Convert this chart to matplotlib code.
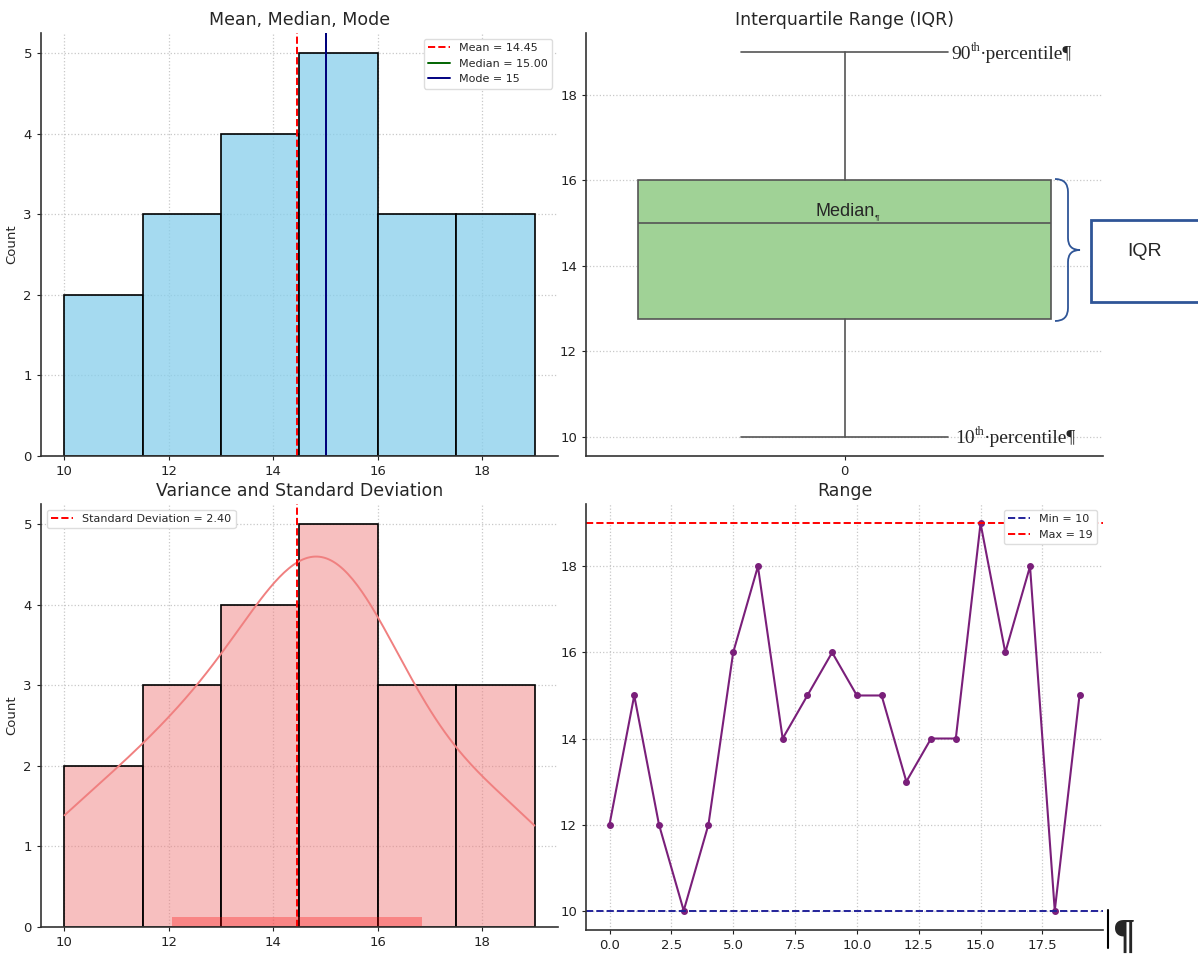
import numpy as np
import matplotlib
matplotlib.use("Agg")
import matplotlib.pyplot as plt
import seaborn as sns
from matplotlib.path import Path
from matplotlib.patches import PathPatch, Rectangle
from matplotlib.lines import Line2D

# sample values
values = [12, 15, 12, 10, 12, 16, 18, 14, 15, 16, 15, 15, 13, 14, 14, 19, 16, 18, 10, 15]
n_bins = 6
hist_ticks = [10, 12, 14, 16, 18]
box_ticks = [10, 12, 14, 16, 18]

data = np.array(values)
mean = data.mean()
median = np.median(data)
mode = np.bincount(data).argmax()
std = data.std()

sns.set_style("ticks")
plt.rcParams['font.family'] = ['DejaVu Sans']

W, H = 1198, 960
fig = plt.figure(figsize=(W / 100, H / 100), dpi=100)

def px(l, t, r, b):
    return [l / W, 1 - b / H, (r - l) / W, (b - t) / H]

ax1 = fig.add_axes(px(41, 33, 558, 456))
ax2 = fig.add_axes(px(586, 33, 1103, 456))
ax3 = fig.add_axes(px(41, 504, 558, 927))
ax4 = fig.add_axes(px(586, 504, 1103, 930))

grid_kw = dict(linestyle=':', color='#c8c8c8', linewidth=0.9)
for ax in (ax1, ax2, ax3, ax4):
    ax.grid(True, **grid_kw)
    ax.set_axisbelow(True)
    for s in ('top', 'right'):
        ax.spines[s].set_visible(False)
    for s in ('left', 'bottom'):
        ax.spines[s].set_color('#333333')
        ax.spines[s].set_linewidth(1.2)
    ax.tick_params(labelsize=9.5, colors='#222222', length=3)

# --- Mean, Median, Mode ---
sns.histplot(data, bins=n_bins, color='#87ceeb', edgecolor='black', linewidth=1.2,
             alpha=0.75, ax=ax1)
ax1.axvline(mean, color='red', linestyle='--', linewidth=1.4, label=f'Mean = {mean:.2f}')
ax1.axvline(median, color='darkgreen', linestyle='-', linewidth=1.4, label=f'Median = {median:.2f}')
ax1.axvline(mode, color='navy', linestyle='-', linewidth=1.4, label=f'Mode = {mode}')
ax1.set_title('Mean, Median, Mode', fontsize=12.5)
ax1.set_ylabel('Count', fontsize=9.5)
ax1.set_xticks(hist_ticks)
ax1.legend(loc='upper right', fontsize=8, framealpha=1, edgecolor='#dddddd')

# --- IQR ---
bp = ax2.boxplot([data], positions=[0], widths=0.8, patch_artist=True,
                 medianprops=dict(color='#555555', linewidth=1.2),
                 whiskerprops=dict(color='#555555', linewidth=1.2),
                 capprops=dict(color='#555555', linewidth=1.2),
                 boxprops=dict(facecolor='#a0d296', edgecolor='#555555', linewidth=1.2))
ax2.set_xlim(-0.5, 0.5)
ax2.set_xticks([0])
ax2.set_xticklabels(['0'])
ax2.set_yticks(box_ticks)
ax2.set_ylim(9.55, 19.45)
ax2.grid(False, axis='x')
ax2.set_title('Interquartile Range (IQR)', fontsize=12.5)

# --- Variance and Standard Deviation ---
sns.histplot(data, bins=n_bins, kde=True, color='#f08080', edgecolor='black', linewidth=1.2,
             alpha=0.5, ax=ax3, line_kws=dict(linewidth=1.4))
ax3.axvline(mean, color='red', linestyle='--', linewidth=1.4, label=f'Standard Deviation = {std:.2f}')
ax3.fill_between([mean - std, mean + std], 0, 0.12, color='red', alpha=0.3, linewidth=0)
ax3.set_title('Variance and Standard Deviation', fontsize=12.5)
ax3.set_ylabel('Count', fontsize=9.5)
ax3.set_xticks(hist_ticks)
ax3.legend(loc='upper left', fontsize=8, framealpha=1, edgecolor='#dddddd')

# --- Range ---
ax4.plot(range(len(data)), data, color='#7a1f7a', marker='o', markersize=4, linewidth=1.5)
ax4.axhline(data.min(), color='#23239a', linestyle='--', linewidth=1.4, label=f'Min = {data.min()}')
ax4.axhline(data.max(), color='red', linestyle='--', linewidth=1.4, label=f'Max = {data.max()}')
ax4.set_title('Range', fontsize=12.5)
ax4.set_xticks(np.arange(0, 20, 2.5))
ax4.set_yticks(box_ticks)
ax4.legend(loc='upper right', fontsize=8, framealpha=1, edgecolor='#dddddd')

# --- word-processor overlays ---
serif = ['Liberation Serif', 'DejaVu Serif']

def pct_label(x, y, num):
    t = fig.text(x / W, 1 - y / H, num, family=serif, fontsize=14, va='bottom')
    t2 = ax2.annotate('th', xy=(1, 0.55), xycoords=t, fontsize=9, family=serif,
                      va='bottom', annotation_clip=False)
    ax2.annotate('\u00b7percentile\u00b6', xy=(1, 0), xycoords=(t2, t), fontsize=14,
                 family=serif, va='bottom', annotation_clip=False)

pct_label(951, 63, '90')
pct_label(955, 447, '10')

tm = fig.text(845 / W, 1 - 211 / H, 'Median', family=['Liberation Sans'], fontsize=13,
              ha='center', va='center')
ax2.annotate('\u00b6', xy=(1, 0.1), xycoords=tm, fontsize=6, family=['Liberation Sans'],
             va='center', annotation_clip=False)

fig.add_artist(Rectangle((1091 / W, 1 - 302 / H), 120 / W, 82 / H, transform=fig.transFigure,
                         facecolor='white', edgecolor='#2f5597', linewidth=2, clip_on=False))
ti = fig.text(1145 / W, 1 - 252 / H, 'IQR', family=['Liberation Sans'], fontsize=14,
              ha='center', va='center')
ax2.annotate('\u00b6', xy=(1, 0.1), xycoords=ti, fontsize=6, family=['Liberation Sans'],
             va='center', annotation_clip=False)

# curly brace beside the box
verts = [(1055, 179), (1068, 179), (1068, 192), (1068, 238), (1068, 250), (1080, 250),
         (1068, 250), (1068, 262), (1068, 308), (1068, 321), (1055, 321)]
codes = [Path.MOVETO, Path.CURVE3, Path.CURVE3, Path.LINETO, Path.CURVE3, Path.CURVE3,
         Path.CURVE3, Path.CURVE3, Path.LINETO, Path.CURVE3, Path.CURVE3]
verts = [(x / W, 1 - y / H) for x, y in verts]
fig.add_artist(PathPatch(Path(verts, codes), transform=fig.transFigure, facecolor='none',
                         edgecolor='#2f5597', linewidth=1.3, clip_on=False))

# cursor mark and pilcrow at the bottom right
fig.add_artist(Line2D([1108 / W, 1108 / W], [1 - 910 / H, 1 - 948 / H], color='black',
                      linewidth=1.5, transform=fig.transFigure))
fig.text(1124 / W, 1 - 938 / H, '\u00b6', family=serif, fontsize=30, ha='center',
         va='center', fontweight='bold')

fig.savefig('out.png', dpi=100)
